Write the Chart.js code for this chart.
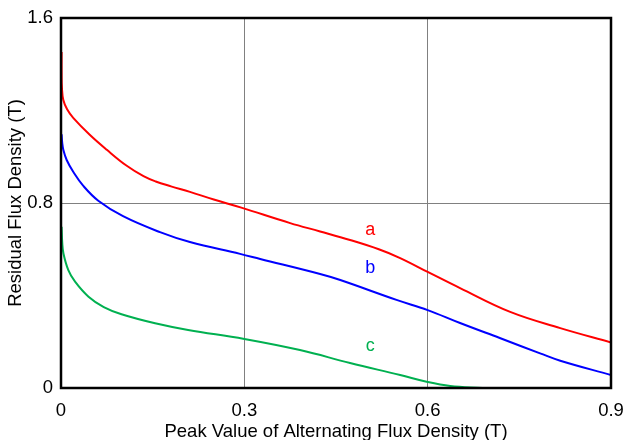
<!DOCTYPE html>
<html>
<head>
<meta charset="utf-8">
<script src="https://cdn.jsdelivr.net/npm/chart.js@4/dist/chart.umd.min.js"></script>
<style>
html,body{margin:0;padding:0;background:#fff;}
#wrap{width:625px;height:440px;position:relative;}
</style>
</head>
<body>
<div id="wrap"><canvas id="c" width="625" height="440"></canvas></div>
<script>
const xTicks = [0, 0.3, 0.6, 0.9];
const yTicks = [0, 0.8, 1.6];
const xTitle = 'Peak Value of Alternating Flux Density (T)';
const yTitle = 'Residual Flux Density (T)';

const seriesNames = ['a', 'b', 'c'];
const seriesColors = ['#ff0000', '#0000ff', '#00b050'];

const curveA = [[0.001,1.453],[0.001,1.36],[0.0015,1.30],[0.0038,1.245],[0.01,1.205],[0.02,1.168],[0.047,1.095],[0.075,1.03],[0.107,0.962],[0.135,0.916],[0.155,0.893],[0.18,0.872],[0.211,0.848],[0.25,0.815],[0.295,0.78],[0.375,0.713],[0.424,0.677],[0.473,0.64],[0.52,0.6],[0.555,0.562],[0.6,0.502],[0.653,0.432],[0.735,0.329],[0.817,0.259],[0.9,0.197]];
const curveB = [[0.001,1.097],[0.002,1.06],[0.0038,1.03],[0.0093,0.986],[0.02,0.935],[0.0365,0.874],[0.061,0.81],[0.1015,0.743],[0.162,0.674],[0.211,0.631],[0.293,0.58],[0.326,0.558],[0.424,0.493],[0.457,0.467],[0.549,0.381],[0.6,0.337],[0.653,0.281],[0.718,0.216],[0.784,0.15],[0.817,0.118],[0.9,0.056]];
const curveC = [[0.001,0.697],[0.002,0.63],[0.004,0.582],[0.012,0.51],[0.023,0.46],[0.045,0.395],[0.07,0.35],[0.099,0.319],[0.154,0.28],[0.208,0.251],[0.3,0.212],[0.391,0.164],[0.473,0.108],[0.555,0.056],[0.6,0.026],[0.637,0.009],[0.69,0.0]];

const labelPos = [[0.506,0.683],[0.506,0.519],[0.506,0.182]];

const toPts = arr => arr.map(p => ({x:p[0], y:p[1]}));
const curves = [curveA, curveB, curveC];

const FONT = "'Liberation Sans', Arial, sans-serif";
const FS = 18.5;

const framePlugin = {
  id:'frame',
  afterDatasetsDraw(chart){
    const {ctx, chartArea:a, scales} = chart;
    ctx.save();
    ctx.strokeStyle = '#000';
    ctx.lineWidth = 2.5;
    ctx.strokeRect(a.left, a.top, a.right - a.left, a.bottom - a.top);
    ctx.font = '18px ' + FONT;
    ctx.textAlign = 'center';
    ctx.textBaseline = 'middle';
    seriesNames.forEach((n,i)=>{
      ctx.fillStyle = seriesColors[i];
      ctx.fillText(n, scales.x.getPixelForValue(labelPos[i][0]), scales.y.getPixelForValue(labelPos[i][1]));
    });
    ctx.restore();
  }
};

new Chart(document.getElementById('c'), {
  type:'line',
  data:{
    datasets: curves.map((c,i)=>({
      label: seriesNames[i],
      data: toPts(c),
      borderColor: seriesColors[i],
      borderWidth: 2,
      pointRadius: 0,
      fill:false,
      tension: 0.4
    }))
  },
  options:{
    responsive:false,
    animation:false,
    layout:{padding:{top:18, right:14, left:0, bottom:0}},
    plugins:{legend:{display:false}, tooltip:{enabled:false}},
    scales:{
      x:{
        type:'linear', min:0, max:0.9,
        afterBuildTicks(s){ s.ticks = xTicks.map(v=>({value:v})); },
        ticks:{ color:'#000', font:{family:FONT, size:FS}, padding:12, maxRotation:0,
          callback:(v)=> String(v) },
        grid:{ color:(c)=> (c.tick && (c.tick.value===0 || c.tick.value===0.9)) ? 'rgba(0,0,0,0)' : '#808080',
               lineWidth:1, drawTicks:false },
        border:{display:false},
        title:{display:true, text:xTitle, color:'#000', font:{family:FONT, size:FS}, padding:{top:0,bottom:-3}},
        afterFit(s){ s.height = 52; s.paddingRight = 0; s.paddingLeft = 0; }
      },
      y:{
        type:'linear', min:0, max:1.6,
        afterBuildTicks(s){ s.ticks = yTicks.map(v=>({value:v})); },
        ticks:{ color:'#000', font:{family:FONT, size:FS}, padding:8,
          callback:(v)=> String(v) },
        grid:{ color:(c)=> (c.tick && (c.tick.value===0 || c.tick.value===1.6)) ? 'rgba(0,0,0,0)' : '#808080',
               lineWidth:1, drawTicks:false },
        border:{display:false},
        title:{display:true, text:yTitle, color:'#000', font:{family:FONT, size:FS}, padding:{top:5,bottom:0}},
        afterFit(s){ s.width = 61; s.paddingTop = 0; s.paddingBottom = 0; }
      }
    }
  },
  plugins:[framePlugin]
});
</script>
</body>
</html>
